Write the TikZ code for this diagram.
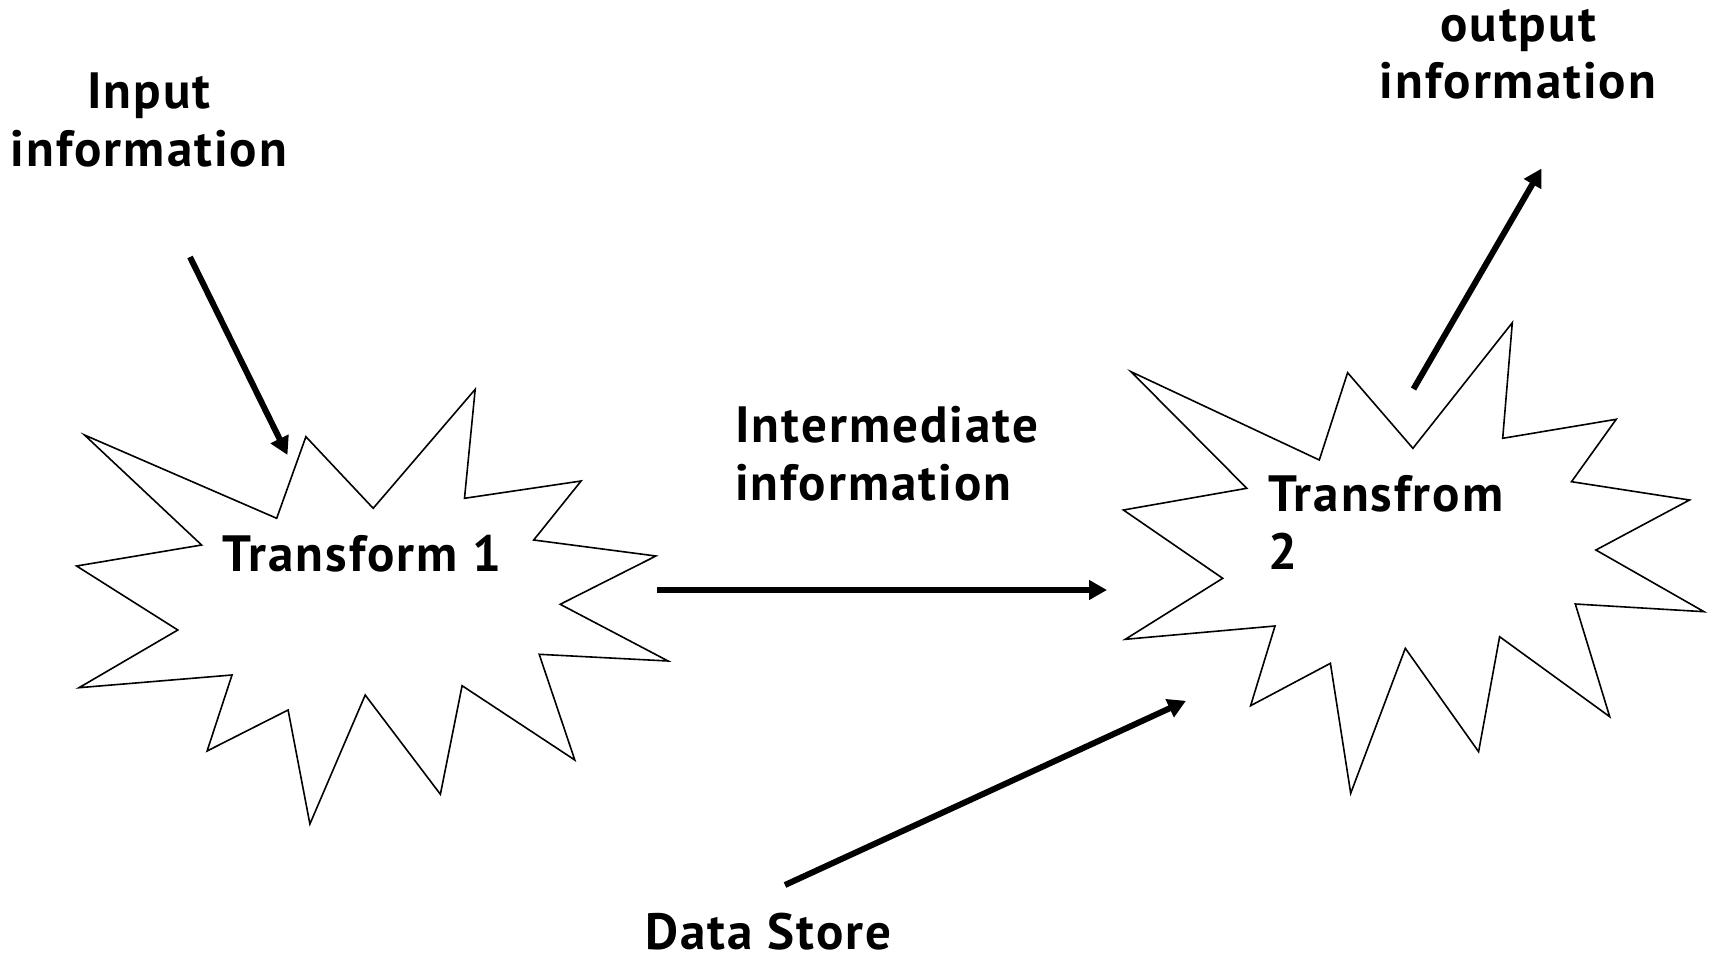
\documentclass[tikz,border=0pt]{standalone}
\usepackage{fontspec}
\setmainfont{PT Sans}[LetterSpace=4]
\usetikzlibrary{arrows.meta}
\tikzset{
  burst/.style={draw=black, line width=1.6pt, line join=miter, fill=white},
  flow/.style={line width=6pt, -{Triangle[length=18pt,width=19pt]}},
  lbl/.style={font=\fontsize{51}{58}\selectfont\bfseries, inner sep=0pt},
}
\begin{document}
\begin{tikzpicture}[x=1pt,y=-1pt]
\useasboundingbox (0,0) rectangle (1709,958);

% first transformation burst
\draw[burst] (84.5,435.0) -- (276.7,518.3) -- (305.9,436.7) -- (373.2,508.3)
  -- (475.2,389.3) -- (464.5,498.3) -- (581.1,481.0) -- (533.7,540.0)
  -- (655.9,556.0) -- (560.2,604.3) -- (668.1,661.0) -- (539.2,654.3)
  -- (574.8,760.0) -- (462.1,685.7) -- (440.4,794.3) -- (365.2,695.0)
  -- (309.9,824.0) -- (288.1,710.0) -- (207.1,751.0) -- (232.0,675.0)
  -- (79.0,687.7) -- (177.8,630.0) -- (76.6,566.0) -- (201.6,545.0) -- cycle;

% second transformation burst
\draw[burst] (1131.0,371.7) -- (1319.3,460.0) -- (1347.6,372.7) -- (1412.9,448.3)
  -- (1512.3,322.7) -- (1502.7,438.3) -- (1616.2,419.3) -- (1571.5,481.7)
  -- (1689.5,500.0) -- (1595.9,550.0) -- (1704.0,611.7) -- (1575.3,604.0)
  -- (1609.7,716.7) -- (1499.6,636.7) -- (1478.6,751.7) -- (1405.3,648.3)
  -- (1350.7,793.3) -- (1330.4,663.3) -- (1250.6,705.7) -- (1275.0,626.0)
  -- (1125.3,639.3) -- (1222.7,578.3) -- (1123.4,510.0) -- (1246.8,488.3) -- cycle;

% labels (the base anchor of a two-line node sits on its last line)
\node[lbl, anchor=base west] (t1) at (222.5,571) {Transform 1};
\node[lbl, anchor=base west, align=left] (t2) at (1268,569) {Transfrom\\2};
\node[lbl, anchor=base, align=center] (inlbl) at (149,166) {Input\\information};
\node[lbl, anchor=base, align=center] (outlbl) at (1518,99) {output\\information};
\node[lbl, anchor=base west, align=left] (midlbl) at (735,500) {Intermediate\\information};
\node[lbl, anchor=base west, text depth=0pt] (ds) at (645,949) {Data Store};

% connector ends
\coordinate (in-s)  at (190,257);
\coordinate (in-e)  at (287.5,455);
\coordinate (out-s) at (1413.5,389);
\coordinate (out-e) at (1541.5,168.5);
\coordinate (mid-s) at (657,590);
\coordinate (mid-e) at (1107,590);
\coordinate (ds-s)  at (785,885);
\coordinate (ds-e)  at (1186,700.8);

\draw[flow] (in-s) -- (in-e);
\draw[flow] (out-s) -- (out-e);
\draw[flow] (mid-s) -- (mid-e);
\draw[flow] (ds-s) -- (ds-e);
\end{tikzpicture}
\end{document}
